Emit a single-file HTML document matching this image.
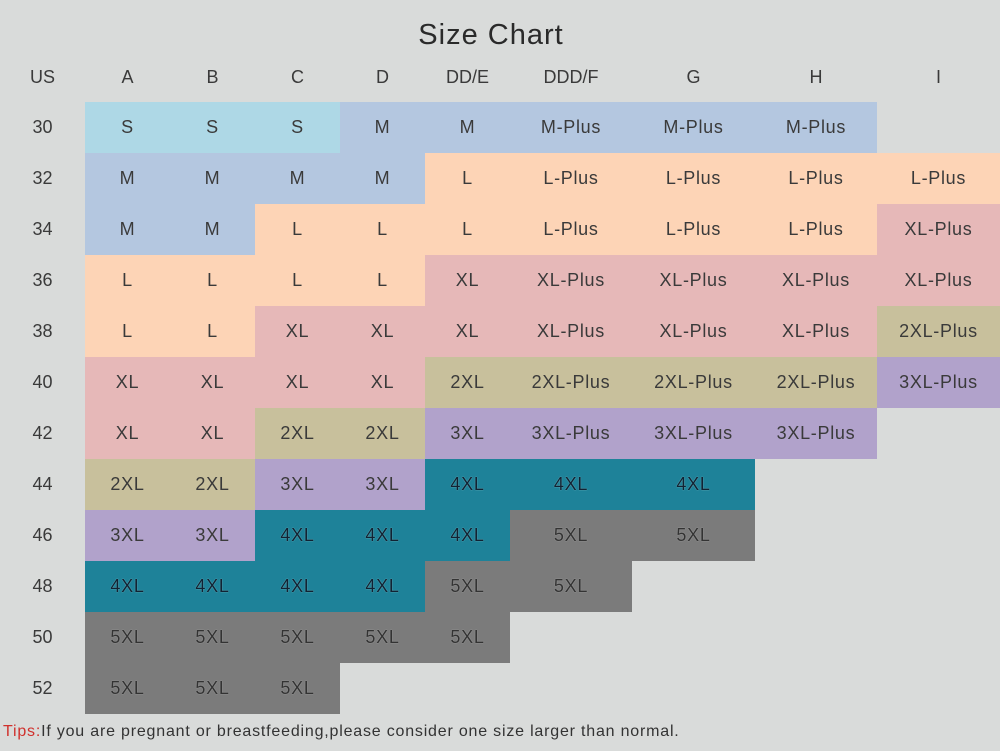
<!DOCTYPE html>
<html><head><meta charset="utf-8"><style>
body{margin:0;width:1000px;height:751px;background:#d9dbda;position:relative;overflow:hidden;font-family:"Liberation Sans",sans-serif;color:#3a3a3a}
div.c{position:absolute;height:51px;line-height:51px;text-align:center;font-size:18px;letter-spacing:.7px}
.h{position:absolute;top:64px;height:26px;line-height:26px;text-align:center;font-size:18px}
.u{position:absolute;left:0;width:85px;height:51px;line-height:51px;text-align:center;font-size:18px}
.a{left:85px;width:85px}.b{left:170px;width:85px}.cc{left:255px;width:85px}.d{left:340px;width:85px}.e{left:425px;width:85px}.f{left:510px;width:122px}.g{left:632px;width:123px}.hh{left:755px;width:122px}.i{left:877px;width:123px}
.r0{top:102px}.r1{top:153px}.r2{top:204px}.r3{top:255px}.r4{top:306px}.r5{top:357px}.r6{top:408px}.r7{top:459px}.r8{top:510px}.r9{top:561px}.r10{top:612px}.r11{top:663px}
.S{background:#aed8e6}.M{background:#b4c7e0}.L{background:#fdd4b6}.X{background:#e6b8b8}.X2{background:#c8c09c}.X3{background:#b1a2cb}.X4{background:#1e8299;color:#123;text-shadow:0 0 1px #9cc}.X5{background:#7b7b7b;color:#333;text-shadow:0 0 1px #bbb}
</style></head><body>
<div style="position:absolute;left:0;width:982px;top:19px;text-align:center;font-size:29px;letter-spacing:1px;color:#2a2a2a">Size Chart</div>
<div class="h" style="left:0;width:85px">US</div><div class="h a">A</div><div class="h b">B</div><div class="h cc">C</div><div class="h d">D</div><div class="h e">DD/E</div><div class="h f">DDD/F</div><div class="h g">G</div><div class="h hh">H</div><div class="h i">I</div>
<div class="u r0">30</div><div class="u r1">32</div><div class="u r2">34</div><div class="u r3">36</div><div class="u r4">38</div><div class="u r5">40</div><div class="u r6">42</div><div class="u r7">44</div><div class="u r8">46</div><div class="u r9">48</div><div class="u r10">50</div><div class="u r11">52</div>

<div class="c r0 a S">S</div><div class="c r0 b S">S</div><div class="c r0 cc S">S</div><div class="c r0 d M">M</div><div class="c r0 e M">M</div><div class="c r0 f M">M-Plus</div><div class="c r0 g M">M-Plus</div><div class="c r0 hh M">M-Plus</div>

<div class="c r1 a M">M</div><div class="c r1 b M">M</div><div class="c r1 cc M">M</div><div class="c r1 d M">M</div><div class="c r1 e L">L</div><div class="c r1 f L">L-Plus</div><div class="c r1 g L">L-Plus</div><div class="c r1 hh L">L-Plus</div><div class="c r1 i L">L-Plus</div>

<div class="c r2 a M">M</div><div class="c r2 b M">M</div><div class="c r2 cc L">L</div><div class="c r2 d L">L</div><div class="c r2 e L">L</div><div class="c r2 f L">L-Plus</div><div class="c r2 g L">L-Plus</div><div class="c r2 hh L">L-Plus</div><div class="c r2 i X">XL-Plus</div>

<div class="c r3 a L">L</div><div class="c r3 b L">L</div><div class="c r3 cc L">L</div><div class="c r3 d L">L</div><div class="c r3 e X">XL</div><div class="c r3 f X">XL-Plus</div><div class="c r3 g X">XL-Plus</div><div class="c r3 hh X">XL-Plus</div><div class="c r3 i X">XL-Plus</div>

<div class="c r4 a L">L</div><div class="c r4 b L">L</div><div class="c r4 cc X">XL</div><div class="c r4 d X">XL</div><div class="c r4 e X">XL</div><div class="c r4 f X">XL-Plus</div><div class="c r4 g X">XL-Plus</div><div class="c r4 hh X">XL-Plus</div><div class="c r4 i X2">2XL-Plus</div>

<div class="c r5 a X">XL</div><div class="c r5 b X">XL</div><div class="c r5 cc X">XL</div><div class="c r5 d X">XL</div><div class="c r5 e X2">2XL</div><div class="c r5 f X2">2XL-Plus</div><div class="c r5 g X2">2XL-Plus</div><div class="c r5 hh X2">2XL-Plus</div><div class="c r5 i X3">3XL-Plus</div>

<div class="c r6 a X">XL</div><div class="c r6 b X">XL</div><div class="c r6 cc X2">2XL</div><div class="c r6 d X2">2XL</div><div class="c r6 e X3">3XL</div><div class="c r6 f X3">3XL-Plus</div><div class="c r6 g X3">3XL-Plus</div><div class="c r6 hh X3">3XL-Plus</div>

<div class="c r7 a X2">2XL</div><div class="c r7 b X2">2XL</div><div class="c r7 cc X3">3XL</div><div class="c r7 d X3">3XL</div><div class="c r7 e X4">4XL</div><div class="c r7 f X4">4XL</div><div class="c r7 g X4">4XL</div>

<div class="c r8 a X3">3XL</div><div class="c r8 b X3">3XL</div><div class="c r8 cc X4">4XL</div><div class="c r8 d X4">4XL</div><div class="c r8 e X4">4XL</div><div class="c r8 f X5">5XL</div><div class="c r8 g X5">5XL</div>

<div class="c r9 a X4">4XL</div><div class="c r9 b X4">4XL</div><div class="c r9 cc X4">4XL</div><div class="c r9 d X4">4XL</div><div class="c r9 e X5">5XL</div><div class="c r9 f X5">5XL</div>

<div class="c r10 a X5">5XL</div><div class="c r10 b X5">5XL</div><div class="c r10 cc X5">5XL</div><div class="c r10 d X5">5XL</div><div class="c r10 e X5">5XL</div>

<div class="c r11 a X5">5XL</div><div class="c r11 b X5">5XL</div><div class="c r11 cc X5">5XL</div>

<div style="position:absolute;left:3px;top:723px;font-size:16px;letter-spacing:.8px;color:#333"><span style="color:#d0312d">Tips:</span>If you are pregnant or breastfeeding,please consider one size larger than normal.</div>
</body></html>
